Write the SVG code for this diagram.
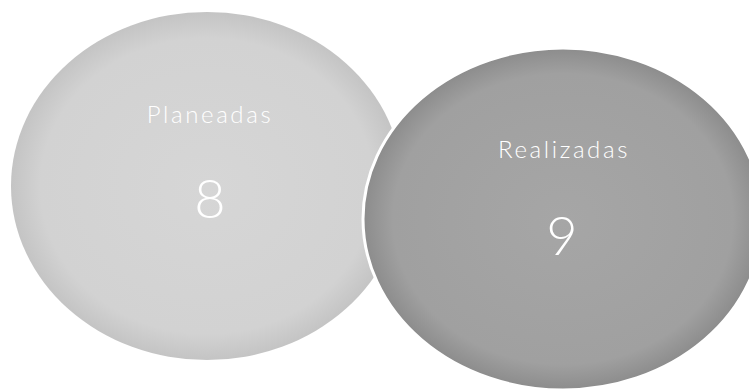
<svg xmlns="http://www.w3.org/2000/svg" width="749" height="392" viewBox="0 0 749 392">
  <style>
    .label { font-family: "Lato", "Open Sans", "Liberation Sans", sans-serif; font-weight: 300; fill: #ffffff; text-anchor: middle; }
    .title { font-size: 24px; letter-spacing: 2.6px; }
    .value { font-size: 54px; }
  </style>
  <defs>
    <radialGradient id="gLeft" cx="50%" cy="50%" r="50%">
      <stop offset="0%" stop-color="#d6d6d6"/>
      <stop offset="85%" stop-color="#d2d2d2"/>
      <stop offset="100%" stop-color="#c4c4c4"/>
    </radialGradient>
    <radialGradient id="gRight" cx="50%" cy="50%" r="50%">
      <stop offset="0%" stop-color="#a6a6a6"/>
      <stop offset="85%" stop-color="#a0a0a0"/>
      <stop offset="100%" stop-color="#8c8c8c"/>
    </radialGradient>
  </defs>
  <rect width="749" height="392" fill="#ffffff"/>
  <g id="connectors"></g>
  <g id="node-planeadas">
    <ellipse cx="207" cy="186" rx="196" ry="174" fill="url(#gLeft)"/>
    <text class="label title" x="210" y="123">Planeadas</text>
    <text class="label value" x="210" y="218">8</text>
  </g>
  <g id="node-realizadas">
    <ellipse cx="563" cy="219" rx="200" ry="171" fill="url(#gRight)" stroke="#ffffff" stroke-width="3"/>
    <text class="label title" x="564" y="158">Realizadas</text>
    <text class="label value" x="562" y="255">9</text>
  </g>
</svg>
